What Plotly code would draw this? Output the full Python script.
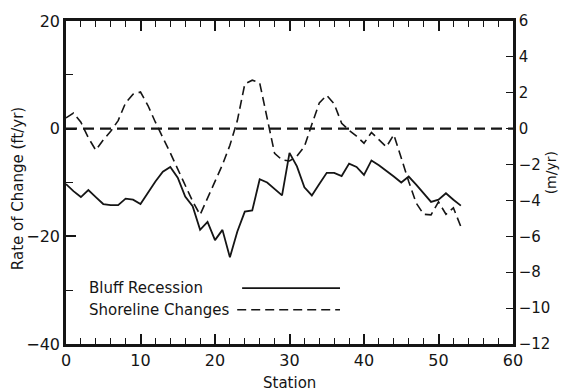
import plotly.graph_objects as go

# ---- data ----
stations = list(range(0, 54))
bluff_ft = [-10.3, -11.6, -12.7, -11.4, -12.7, -14.0, -14.2, -14.2, -13.0, -13.2,
            -14.0, -11.9, -9.8, -8.0, -7.1, -9.1, -12.6, -14.4, -18.8, -17.3,
            -20.7, -18.8, -23.9, -19.1, -15.4, -15.2, -9.4, -10.0, -11.2, -12.4,
            -4.5, -7.0, -10.9, -12.4, -10.3, -8.2, -8.2, -8.8, -6.5, -7.1,
            -8.6, -5.9, -6.8, -7.8, -8.9, -10.0, -8.9, -10.4, -12.1, -13.6,
            -13.2, -12.0, -13.2, -14.3]
shore_m = [0.60, 0.87, 0.36, -0.51, -1.20, -0.63, -0.15, 0.45, 1.44, 1.92,
           2.04, 1.29, 0.36, -0.45, -1.35, -2.25, -3.12, -4.05, -4.80, -3.90,
           -2.94, -2.01, -0.93, 0.45, 2.49, 2.70, 2.55, 0.54, -1.38, -1.74,
           -1.80, -1.53, -0.99, 0.24, 1.44, 1.86, 1.38, 0.30, -0.09, -0.42,
           -0.81, -0.21, -0.63, -1.02, -0.33, -1.68, -2.94, -4.14, -4.77, -4.80,
           -4.08, -4.77, -4.41, -5.46]

x_ticks = [0, 10, 20, 30, 40, 50, 60]
y_left_ticks = [20, 0, -20, -40]
y_left_text = ["20", "0", "\u221220", "\u221240"]
y_right_ticks = [6, 4, 2, 0, -2, -4, -6, -8, -10, -12]
y_right_text = ["6", "4", "2", "0", "\u22122", "\u22124", "\u22126", "\u22128",
                "\u221210", "\u221212"]

FONT = "DejaVu Sans"
BLACK = "#151515"

fig = go.Figure()
fig.add_trace(go.Scatter(x=stations, y=bluff_ft, mode="lines",
                         line=dict(color=BLACK, width=1.8), showlegend=False))
fig.add_trace(go.Scatter(x=stations, y=shore_m, mode="lines", yaxis="y2",
                         line=dict(color=BLACK, width=1.6, dash="9px,5px"),
                         showlegend=False))

# zero reference line
fig.add_shape(type="line", xref="paper", x0=0, x1=1, yref="y", y0=0, y1=0,
              line=dict(color=BLACK, width=2.2, dash="11px,6px"))

# legend (text then line sample)
fig.add_annotation(text="Bluff Recession", xref="paper", yref="paper",
                   x=0.047, y=0.173, xanchor="left", yanchor="middle",
                   showarrow=False, font=dict(family=FONT, size=15, color=BLACK))
fig.add_annotation(text="Shoreline Changes", xref="paper", yref="paper",
                   x=0.047, y=0.106, xanchor="left", yanchor="middle",
                   showarrow=False, font=dict(family=FONT, size=15, color=BLACK))
fig.add_shape(type="line", xref="paper", yref="paper", x0=0.394, x1=0.613,
              y0=0.173, y1=0.173, line=dict(color=BLACK, width=1.8))
fig.add_shape(type="line", xref="paper", yref="paper", x0=0.383, x1=0.613,
              y0=0.106, y1=0.106, line=dict(color=BLACK, width=1.6, dash="9px,5px"))

# axis titles
fig.add_annotation(text="Rate of Change (ft/yr)", xref="paper", yref="paper",
                   x=-0.107, y=0.48, xanchor="center", yanchor="middle",
                   textangle=-90, showarrow=False,
                   font=dict(family=FONT, size=15, color=BLACK))
fig.add_annotation(text="(m/yr)", xref="paper", yref="paper",
                   x=1.084, y=0.53, xanchor="center", yanchor="middle",
                   textangle=-90, showarrow=False,
                   font=dict(family=FONT, size=14, color=BLACK))
fig.add_annotation(text="Station", xref="paper", yref="paper",
                   x=0.501, y=-0.122, xanchor="center", yanchor="middle",
                   showarrow=False, font=dict(family=FONT, size=15, color=BLACK))

fig.update_layout(
    width=562, height=391,
    margin=dict(l=66, r=49, t=15, b=47),
    paper_bgcolor="white", plot_bgcolor="white",
    font=dict(family=FONT, size=16, color=BLACK),
    xaxis=dict(range=[0, 60], tickvals=x_ticks, ticks="inside", ticklen=10,
               tickwidth=1.5, tickcolor=BLACK, showline=True, linewidth=2.5,
               linecolor=BLACK, mirror="ticks", showgrid=False, zeroline=False,
               minor=dict(dtick=2, ticks="inside", ticklen=6, tickwidth=1.2,
                          tickcolor=BLACK, showgrid=False),
               tickfont=dict(size=16)),
    yaxis=dict(range=[-40, 20], tickvals=y_left_ticks, ticktext=y_left_text,
               ticks="inside", ticklen=10, tickwidth=1.5, tickcolor=BLACK,
               showline=True, linewidth=2.5, linecolor=BLACK, showgrid=False,
               zeroline=False,
               minor=dict(tickvals=[10, -10, -30], ticks="inside", ticklen=7,
                          tickwidth=1.2, tickcolor=BLACK, showgrid=False),
               tickfont=dict(size=16)),
    yaxis2=dict(range=[-12, 6], overlaying="y", side="right",
                tickvals=y_right_ticks, ticktext=y_right_text,
                ticks="inside", ticklen=7, tickwidth=1.2, tickcolor=BLACK,
                showline=True, linewidth=2.5, linecolor=BLACK, showgrid=False,
                zeroline=False, tickfont=dict(size=15)),
)

fig.write_html("out.html")
